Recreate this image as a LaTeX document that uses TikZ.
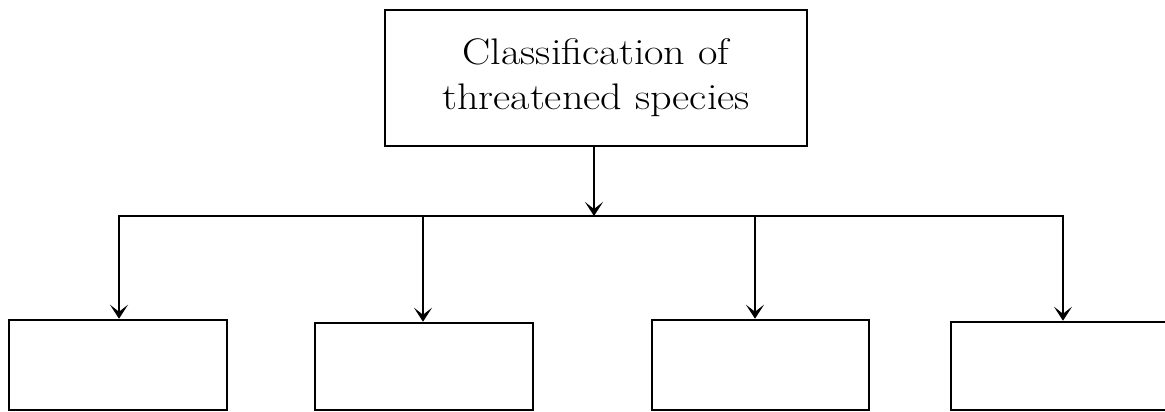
\documentclass[tikz,border=0pt]{standalone}
\usetikzlibrary{arrows.meta}
\begin{document}
\begin{tikzpicture}[x=1pt,y=1pt,
  boxstyle/.style={draw=black,line width=2.5pt,inner sep=0pt,rectangle},
  conn/.style={draw=black,line width=2.3pt},
  arr/.style={conn,-{Stealth[length=14pt,width=18pt,inset=7pt]}}]
\useasboundingbox (0,0) rectangle (1165,412);
\clip (0,0) rectangle (1165,412);
\node[boxstyle,minimum width=422pt,minimum height=136pt,align=center,
      font=\fontsize{37}{45}\selectfont] (top) at (596,334)
  {\scalebox{1.14}[1]{Classification of}\\\scalebox{1.14}[1]{threatened species}};
\node[boxstyle,minimum width=218pt,minimum height=90pt] (b1) at (118,47) {};
\node[boxstyle,minimum width=218pt,minimum height=87pt] (b2) at (424,45.5) {};
\node[boxstyle,minimum width=217pt,minimum height=90pt] (b3) at (760.5,47) {};
\node[boxstyle,minimum width=217pt,minimum height=88pt] (b4) at (1059.5,46) {};
\coordinate (j) at (594,196);
\coordinate (h1) at (119,196);
\coordinate (h2) at (423,196);
\coordinate (h3) at (755,196);
\coordinate (h4) at (1063,196);
\draw[arr] (top.south -| j) -- (j);
\draw[conn,line cap=rect] (h1) -- (h4);
\draw[arr] (h1) -- (h1 |- b1.north);
\draw[arr] (h2) -- (h2 |- b2.north);
\draw[arr] (h3) -- (h3 |- b3.north);
\draw[arr] (h4) -- (h4 |- b4.north);
\end{tikzpicture}
\end{document}
